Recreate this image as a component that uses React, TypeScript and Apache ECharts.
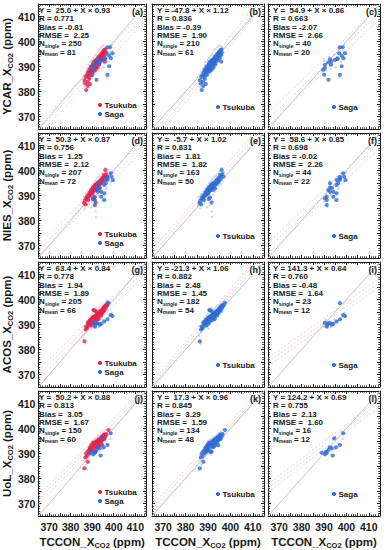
import React, { useEffect, useRef } from 'react';
import * as echarts from 'echarts';

// ---------- data ----------
const rowNames = ['YCAR', 'NIES', 'ACOS', 'UoL'];
const panelLetters = ['a', 'b', 'c', 'd', 'e', 'f', 'g', 'h', 'i', 'j', 'k', 'l'];
const intercepts = [25.0, -47.8, 54.9, 50.3, -5.7, 58.6, 63.4, -21.3, 141.3, 50.2, 17.3, 124.2];
const slopes = [0.93, 1.12, 0.86, 0.87, 1.02, 0.85, 0.84, 1.06, 0.64, 0.88, 0.96, 0.69];
const rValues = ['0.771', '0.836', '0.663', '0.756', '0.831', '0.698', '0.778', '0.882', '0.760', '0.813', '0.845', '0.755'];
const biases = [-0.81, -0.39, -2.07, 1.25, 1.81, -0.02, 1.94, 2.48, -0.48, 3.05, 3.29, 2.13];
const rmses = [2.25, 1.90, 2.66, 2.12, 1.82, 2.26, 1.89, 1.45, 1.64, 1.67, 1.59, 1.60];
const nSingle = [250, 210, 40, 207, 163, 44, 205, 182, 23, 150, 134, 16];
const nMean = [81, 61, 20, 72, 50, 22, 66, 54, 12, 60, 48, 12];
const tickLabels = [370, 380, 390, 400, 410];

// Tsukuba means (YCAR, NIES, ACOS, UoL)
const tsukubaMeanYCAR = [[386.4,384.5],[386.8,383.2],[387.2,380.6],[387.0,385.8],[387.5,386.5],[387.8,384.0],[388.0,387.5],[388.2,386.0],[388.4,388.4],[388.6,385.2],
[388.9,387.0],[389.0,389.2],[389.2,388.0],[389.4,386.6],[389.5,390.0],[389.7,388.6],[389.9,389.5],[390.0,387.6],[390.2,390.6],[390.3,388.9],
[390.5,391.4],[390.6,389.8],[390.8,388.2],[390.9,390.6],[391.0,392.0],[391.1,389.4],[391.3,391.0],[391.4,390.0],[391.6,392.4],[391.7,388.8],
[391.8,391.4],[392.0,390.4],[392.1,392.8],[392.3,391.6],[392.4,389.6],[392.6,393.0],[392.7,391.2],[392.9,392.2],[393.0,394.0],[393.2,390.8],
[393.3,392.8],[393.5,393.6],[393.6,391.9],[393.8,394.4],[394.0,393.0],[394.1,395.0],[394.3,393.8],[394.5,392.6],[394.6,395.4],[394.8,394.2],
[395.0,396.0],[395.1,394.8],[395.3,393.4],[395.4,395.8],[395.6,396.6],[395.8,394.6],[395.9,391.9],[396.0,396.8],[396.2,395.6],[389.0,383.0],[387.9,382.2]];
const tsukubaMeanNIES = [[386.2,387.0],[386.6,388.0],[386.9,386.4],[387.2,388.8],[387.5,389.6],[387.9,389.2],[388.1,388.2],[388.3,390.4],[388.6,389.8],[388.8,391.0],
[389.0,390.2],[389.2,391.6],[389.4,390.5],[389.6,392.2],[389.8,391.2],[390.0,392.6],[390.1,390.8],[390.3,393.0],[390.5,391.8],[390.6,393.4],
[390.8,392.0],[390.9,389.2],[391.1,393.8],[391.2,392.4],[391.4,394.2],[391.6,387.2],[391.7,393.0],[391.9,394.6],[392.0,393.4],[392.2,392.2],
[392.4,394.8],[392.5,393.6],[392.8,395.2],[393.0,394.0],[393.1,392.8],[393.4,395.6],[393.6,394.6],[393.9,396.2],[394.1,395.0],[394.4,396.6],
[394.6,395.4],[394.9,397.2],[395.1,396.0],[395.4,398.2],[395.6,396.8],[395.9,397.8],[396.1,400.2],[396.4,398.6],[396.9,397.5],[390.4,388.6]];
const tsukubaMeanACOS = [[386.4,383.3],[386.9,388.0],[387.2,389.2],[387.6,388.6],[387.9,390.6],[388.2,389.6],[388.4,391.0],[388.7,390.2],[388.9,391.6],[389.1,390.8],
[389.3,392.0],[389.4,389.6],[389.6,391.4],[389.8,392.4],[390.0,391.0],[390.2,392.8],[390.3,390.4],[390.5,393.0],[390.7,391.8],[390.9,392.6],
[391.0,395.6],[391.1,393.2],[391.3,391.6],[391.5,393.6],[391.6,395.3],[391.8,392.4],[392.0,393.8],[392.2,392.0],[392.3,394.2],[392.5,393.0],
[392.7,394.6],[392.9,393.4],[393.0,392.2],[393.2,394.8],[393.4,393.8],[393.6,395.2],[393.8,394.2],[393.9,395.3],[394.1,393.6],[394.3,395.6],
[394.5,394.6],[394.7,396.0],[394.9,395.0],[395.1,396.4],[395.3,395.4],[395.4,396.6],[395.6,397.0],[395.8,395.8],[396.0,397.4],[396.3,396.8],
[396.6,397.8],[397.0,397.6],[397.6,398.7],[390.6,395.8]];
const tsukubaMeanUoL = [[386.4,384.1],[386.8,388.4],[387.2,390.1],[387.5,389.0],[387.9,386.7],[388.1,391.0],[388.4,390.0],[388.6,391.4],[388.9,392.4],[389.1,390.6],
[389.3,392.0],[389.6,393.2],[389.8,391.4],[390.0,392.6],[390.1,394.0],[390.3,391.2],[390.5,393.2],[390.7,394.4],[390.9,392.4],[391.0,394.0],
[391.2,390.6],[391.4,393.4],[391.6,390.7],[391.7,394.6],[391.9,392.8],[392.1,395.0],[392.3,393.6],[392.4,394.7],[392.6,392.6],[392.8,395.4],
[393.0,394.0],[393.2,395.8],[393.4,394.6],[393.6,393.4],[393.8,395.4],[394.0,396.2],[394.2,394.8],[394.4,396.6],[394.6,393.4],[394.8,395.6],
[395.0,397.0],[395.2,396.2],[395.4,397.4],[395.6,395.8],[395.8,397.6],[396.1,396.7],[396.5,397.8],[397.6,399.4]];

// Saga means
const sagaMeanYCAR = [[398.3,397.7],[397.1,397.7],[399.4,395.3],[396.8,395.3],[397.9,394.3],[398.7,393.3],[396.0,392.9],[393.4,392.0],[391.9,391.6],[392.7,392.9],
[390.4,390.7],[393.1,390.7],[397.9,390.1],[390.4,389.4],[389.6,388.7],[390.1,386.7],[397.1,386.7],[392.0,384.7],[396.0,393.3],[394.9,392.7]];
const sagaMeanNIES = [[398.6,398.9],[397.1,397.5],[399.0,397.5],[397.1,396.2],[395.6,396.2],[396.3,394.9],[399.6,396.2],[392.7,394.9],[393.5,392.9],[391.9,392.2],
[392.7,391.5],[394.2,391.5],[391.2,389.5],[394.2,389.5],[391.2,388.2],[395.6,390.9],[391.2,386.2],[395.6,388.2],[392.7,393.3],[395.6,394.2],
[390.4,388.9],[397.1,396.9]];
const sagaMeanACOS = [[397.1,398.5],[390.4,390.7],[391.9,390.5],[391.2,389.2],[393.5,389.9],[395.6,391.2],[397.1,392.1],[398.6,393.8],[399.4,393.4],[392.7,390.5],[391.5,389.9],[394.2,390.3]];
const sagaMeanUoL = [[398.6,398.1],[394.6,396.1],[397.1,393.4],[395.4,392.5],[392.7,392.5],[393.5,392.1],[391.9,391.4],[390.9,390.7],[389.0,390.3],[390.4,389.7],[391.2,390.3],[393.9,389.2]];

// Tsukuba single soundings (faint)
const tsukubaSingleYCAR = [[385.8,383.0],[386.2,386.6],[386.6,381.8],[387.0,387.8],[387.4,383.4],[387.8,389.4],[388.2,385.0],[388.5,390.6],[388.8,384.6],[389.2,391.8],
[389.5,387.0],[389.9,392.6],[390.2,386.4],[390.6,393.4],[390.9,387.6],[391.3,394.4],[391.6,388.0],[392.0,395.2],[392.3,389.4],[392.7,396.4],
[393.0,390.2],[393.4,397.0],[393.8,391.0],[394.2,397.8],[394.6,392.0],[395.0,398.4],[395.4,393.0],[395.9,398.0],[396.4,394.4],[396.8,397.2]];
const tsukubaSingleNIES = [[385.6,386.0],[386.0,389.4],[386.6,384.8],[387.0,390.6],[387.5,386.6],[388.0,391.8],[388.4,387.2],[388.9,392.8],[389.3,388.2],[389.7,394.0],
[390.1,389.0],[390.5,395.0],[390.9,386.0],[391.3,395.8],[391.6,383.6],[392.0,396.6],[392.4,390.4],[392.8,397.4],[393.2,391.6],[393.6,397.8],
[394.0,392.8],[394.4,398.8],[394.8,393.8],[395.2,399.6],[395.6,394.6],[396.0,401.0],[396.5,395.8],[397.0,399.4],[391.8,381.4],[389.6,385.2]];
const tsukubaSingleACOS = [[386.0,385.6],[386.4,389.4],[387.0,386.8],[387.4,391.4],[387.9,388.2],[388.3,392.6],[388.8,389.0],[389.2,393.6],[389.7,389.8],[390.1,394.4],
[390.5,390.2],[390.9,396.2],[391.3,390.8],[391.7,396.6],[392.1,391.2],[392.5,396.0],[392.9,391.8],[393.3,396.8],[393.7,392.6],[394.1,397.2],
[394.5,393.4],[394.9,397.8],[395.3,394.2],[395.7,398.4],[396.1,395.0],[396.6,399.2],[397.0,396.0],[397.8,398.2],[386.6,382.4],[390.2,388.4]];
const tsukubaSingleUoL = [[385.8,383.4],[386.2,387.2],[386.6,389.2],[387.0,385.6],[387.4,391.0],[387.9,388.0],[388.3,392.2],[388.8,389.2],[389.2,393.4],[389.7,390.2],
[390.1,395.0],[390.5,390.6],[390.9,395.6],[391.3,391.4],[391.7,396.0],[392.1,392.0],[392.5,396.6],[392.9,392.6],[393.3,397.0],[393.7,393.2],
[394.1,397.6],[394.5,394.0],[394.9,398.2],[395.3,394.8],[395.7,398.6],[396.1,395.6],[396.6,399.6],[397.2,397.2],[388.0,386.4],[391.2,389.6]];

// Saga single soundings (faint)
const sagaSingleYCAR = [[389.4,387.8],[390.2,392.2],[391.0,388.4],[392.2,393.8],[393.0,389.0],[394.4,394.6],[395.2,389.6],[396.4,397.0],[397.6,392.0],[398.4,396.0],[399.0,398.6],[396.8,385.6]];
const sagaSingleNIES = [[390.0,387.4],[390.8,390.6],[391.6,385.4],[392.4,395.6],[393.2,390.2],[394.0,393.6],[394.8,388.0],[395.8,397.4],[396.6,392.8],[397.8,398.8],[398.8,395.4],[399.8,399.4]];
const sagaSingleACOS = [[389.6,390.0],[390.8,391.8],[391.6,388.6],[392.4,391.2],[393.2,389.0],[394.8,392.0],[396.2,391.4],[397.0,399.6],[398.0,393.0],[399.2,394.6],[390.0,389.2]];
const sagaSingleUoL = [[389.4,390.8],[390.6,389.2],[392.0,392.8],[393.0,391.0],[394.0,395.4],[395.0,391.8],[396.4,394.0],[397.6,398.8],[398.4,395.8],[391.4,390.0]];

const tsukubaMeans = [tsukubaMeanYCAR, tsukubaMeanNIES, tsukubaMeanACOS, tsukubaMeanUoL];
const sagaMeans = [sagaMeanYCAR, sagaMeanNIES, sagaMeanACOS, sagaMeanUoL];
const tsukubaSingles = [tsukubaSingleYCAR, tsukubaSingleNIES, tsukubaSingleACOS, tsukubaSingleUoL];
const sagaSingles = [sagaSingleYCAR, sagaSingleNIES, sagaSingleACOS, sagaSingleUoL];

// ---------- layout / style ----------
const COLS = [34, 152, 268];
const ROWS = [4, 133, 262, 391];
const GW = 112;
const GH = 125;
const AMIN = 365;
const AMAX = 415;
const FONT = '"Liberation Sans", Arial, sans-serif';
const RED = '#e2234f';
const BLUE = '#2e6bd2';
const PINK = '#f7bfca';
const LBLUE = '#b3cdf0';
const LINEPINK = '#f0b4be';
const GRAY = '#bdbdbd';
const INK = '#1a1a1a';

function buildOption() {
  const grid: any[] = [];
  const xAxis: any[] = [];
  const yAxis: any[] = [];
  const series: any[] = [];
  const graphic: any[] = [];

  const tickCommon = {
    axisLine: { show: true, onZero: false, lineStyle: { color: INK, width: 1 } },
    axisTick: { show: true, inside: true, length: 3, lineStyle: { color: INK, width: 1 } },
    minorTick: { show: true, splitNumber: 5, length: 1.8, lineStyle: { color: INK, width: 0.8 } },
    splitLine: { show: false },
    minorSplitLine: { show: false },
  };
  const labelStyle = {
    fontFamily: FONT,
    fontWeight: 'bold',
    fontSize: 10.5,
    color: INK,
    formatter: (v: number) => (tickLabels.indexOf(v) >= 0 ? String(v) : ''),
  };
  const nameRich = {
    n: { fontFamily: FONT, fontWeight: 'bold', fontSize: 11.5, color: INK, lineHeight: 14 },
    s: { fontFamily: FONT, fontWeight: 'bold', fontSize: 7.5, color: INK, lineHeight: 6, verticalAlign: 'bottom' },
  };

  const statRich = {
    t: { fontFamily: FONT, fontWeight: 'bold', fontSize: 8, color: INK, lineHeight: 8.4 },
    s: { fontFamily: FONT, fontWeight: 'bold', fontSize: 5, color: INK, lineHeight: 4, verticalAlign: 'bottom' },
  };

  for (let r = 0; r < 4; r++) {
    for (let c = 0; c < 3; c++) {
      const p = r * 3 + c;
      const left = COLS[c];
      const top = ROWS[r];
      grid.push({ left, top, width: GW, height: GH, containLabel: false });

      xAxis.push({
        type: 'value', gridIndex: p, min: AMIN, max: AMAX, interval: 5, position: 'bottom',
        ...tickCommon,
        axisLabel: { show: r === 3, margin: 5, ...labelStyle },
        name: r === 3 ? '{n|TCCON_X}{s|CO2}{n| (ppm)}' : '',
        nameLocation: 'middle',
        nameGap: 19,
        nameTextStyle: { rich: nameRich },
      });
      yAxis.push({
        type: 'value', gridIndex: p, min: AMIN, max: AMAX, interval: 5, position: 'left',
        ...tickCommon,
        axisLabel: { show: c === 0, margin: 3, ...labelStyle },
        name: c === 0 ? `{n|${rowNames[r]}_X}{s|CO2}{n| (ppm)}` : '',
        nameLocation: 'middle',
        nameRotate: 90,
        nameGap: 16,
        nameTextStyle: { rich: nameRich },
      });

      // 1:1 line
      series.push({
        type: 'line', xAxisIndex: p, yAxisIndex: p, symbol: 'none', silent: true, clip: true, z: 1,
        data: [[AMIN, AMIN], [AMAX, AMAX]],
        lineStyle: { color: GRAY, width: 0.9, type: 'solid' },
      });
      // regression line and +/- RMSE lines
      const a = intercepts[p];
      const b = slopes[p];
      [-rmses[p], 0, rmses[p]].forEach((off) => {
        series.push({
          type: 'line', xAxisIndex: p, yAxisIndex: p, symbol: 'none', silent: true, clip: true, z: 1,
          data: [[AMIN, a + b * AMIN + off], [AMAX, a + b * AMAX + off]],
          lineStyle: { color: LINEPINK, width: 0.7, type: [2, 2] },
        });
      });

      const scatter = (data: number[][], color: string, size: number, z: number) => ({
        type: 'scatter', xAxisIndex: p, yAxisIndex: p, data, symbol: 'circle', symbolSize: size,
        itemStyle: { color }, silent: true, z,
      });

      if (c === 0) {
        series.push(scatter(tsukubaSingles[r], PINK, 2.4, 2));
        series.push(scatter(sagaSingles[r], LBLUE, 2.4, 2));
        series.push(scatter(tsukubaMeans[r], RED, 4.2, 3));
        series.push(scatter(sagaMeans[r], BLUE, 4.2, 4));
      } else if (c === 1) {
        series.push(scatter(tsukubaSingles[r], LBLUE, 2.4, 2));
        series.push(scatter(tsukubaMeans[r], BLUE, 4.2, 3));
      } else {
        series.push(scatter(sagaSingles[r], LBLUE, 2.4, 2));
        series.push(scatter(sagaMeans[r], BLUE, 4.2, 3));
      }

      // stats text
      const ic = intercepts[p].toFixed(1).padStart(5, ' ');
      const bs = biases[p] < 0 ? biases[p].toFixed(2) : ' ' + biases[p].toFixed(2);
      const text = [
        `{t|Y = ${ic} + X × ${slopes[p].toFixed(2)}}`,
        `{t|R = ${rValues[p]}}`,
        `{t|Bias = ${bs}}`,
        `{t|RMSE =  ${rmses[p].toFixed(2)}}`,
        `{t|N}{s|single}{t| = ${nSingle[p]}}`,
        `{t|N}{s|mean}{t| = ${nMean[p]}}`,
      ].join('\n');
      graphic.push({
        type: 'text', x: left + 5, y: top + 2, silent: true, z: 10,
        style: { text, rich: statRich, fill: INK, align: 'left', verticalAlign: 'top', textAlign: 'left', textVerticalAlign: 'top' },
      });
      graphic.push({
        type: 'text', x: left + GW - 3, y: top + 3, silent: true, z: 10,
        style: {
          text: `(${panelLetters[p]})`, fill: INK, font: `bold 9px ${FONT}`,
          align: 'right', verticalAlign: 'top', textAlign: 'right', textVerticalAlign: 'top',
        },
      });

      // legend
      const lx = left + 66;
      const entries: [string, string][] =
        c === 0 ? [['Tsukuba', RED], ['Saga', BLUE]] : c === 1 ? [['Tsukuba', BLUE]] : [['Saga', BLUE]];
      entries.forEach(([label, color], i) => {
        const ly = top + (c === 0 ? 101 : 103) + i * 9;
        graphic.push({ type: 'circle', silent: true, z: 10, shape: { cx: lx, cy: ly, r: 2.1 }, style: { fill: color } });
        graphic.push({
          type: 'text', x: lx + 4.5, y: ly, silent: true, z: 10,
          style: {
            text: label, fill: INK, font: `bold 8px ${FONT}`,
            align: 'left', verticalAlign: 'middle', textAlign: 'left', textVerticalAlign: 'middle',
          },
        });
      });
    }
  }

  // mirrored top/right axes for ticks on all four sides
  for (let p = 0; p < 12; p++) {
    xAxis.push({
      type: 'value', gridIndex: p, min: AMIN, max: AMAX, interval: 5, position: 'top',
      ...tickCommon, axisLabel: { show: false },
    });
    yAxis.push({
      type: 'value', gridIndex: p, min: AMIN, max: AMAX, interval: 5, position: 'right',
      ...tickCommon, axisLabel: { show: false },
    });
  }

  return {
    animation: false,
    backgroundColor: '#ffffff',
    grid,
    xAxis,
    yAxis,
    series,
    graphic,
  };
}

export default function App() {
  const ref = useRef<HTMLDivElement>(null);
  useEffect(() => {
    document.body.style.margin = '0';
    if (!ref.current) return;
    const chart = echarts.init(ref.current, undefined, { renderer: 'svg' });
    chart.setOption(buildOption() as any);
    return () => chart.dispose();
  }, []);
  return (
    <div
      ref={ref}
      style={{ position: 'absolute', left: 0, top: 0, width: 388, height: 550, background: '#fff' }}
    />
  );
}
